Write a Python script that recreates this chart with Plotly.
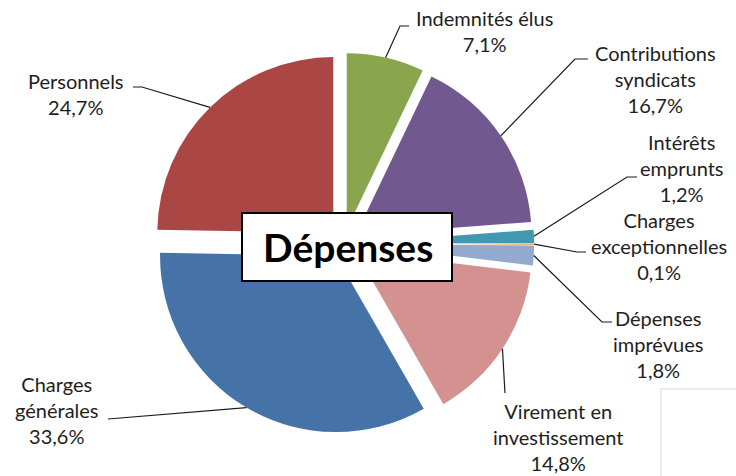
import math
import plotly.graph_objects as go

# ---- data ----
categories = ["Indemnités élus", "Contributions syndicats", "Intérêts emprunts",
              "Charges exceptionnelles", "Dépenses imprévues",
              "Virement en investissement", "Charges générales", "Personnels"]
label_lines = [["Indemnités élus"], ["Contributions", "syndicats"], ["Intérêts", "emprunts"],
               ["Charges", "exceptionnelles"], ["Dépenses", "imprévues"],
               ["Virement en", "investissement"], ["Charges", "générales"], ["Personnels"]]
values = [7.1, 16.7, 1.2, 0.1, 1.8, 14.8, 33.6, 24.7]
pct_labels = ["7,1%", "16,7%", "1,2%", "0,1%", "1,8%", "14,8%", "33,6%", "24,7%"]
colors = ["#89A54E", "#71588F", "#4198AF", "#E8913F", "#93A9CF", "#D39290", "#4572A7", "#AA4643"]
title_text = "Dépenses"

# ---- layout geometry (pixels) ----
W, H = 736, 476
PULL = 0.083
R = 176.0
CX, CY = 343.5, 243.5
half = R * (1 + PULL)
dom_x = [(CX - half) / W, (CX + half) / W]
dom_y = [1 - (CY + half) / H, 1 - (CY - half) / H]

# label block centres and leader-line end paths (layout positions)
label_pos = [(485, 31), (655, 79), (682, 168), (659, 246), (658, 344), (558, 437), (57, 410), (76, 94)]
leader_ends = [[(400, 26), (409, 26)],
               [(575, 59), (588, 59)],
               [(627, 177), (637, 177)],
               [(577, 252), (586, 252)],
               [(602, 322), (612, 322)],
               [(505, 393)],
               [(108, 419)],
               [(142, 87), (133, 87)]]

FONT = "Lato, 'Open Sans', sans-serif"
TXT = "#1e1e1e"


def px(x, y):
    return x / W, 1 - y / H


fig = go.Figure(go.Pie(
    labels=categories, values=values, sort=False, direction="clockwise", rotation=0,
    pull=[PULL] * len(values), marker=dict(colors=colors, line=dict(width=0)),
    textinfo="none", hoverinfo="label+percent", showlegend=False,
    domain=dict(x=dom_x, y=dom_y),
))

shapes = []
annotations = []
total = sum(values)
cum = 0.0
for i, v in enumerate(values):
    mid = (cum + v / 2) / total * 2 * math.pi
    cum += v
    dx, dy = math.sin(mid), -math.cos(mid)
    ax = CX + dx * (PULL * R + R)
    ay = CY + dy * (PULL * R + R)
    pts = [(ax, ay)] + leader_ends[i]
    path = "M " + " L ".join("%.4f,%.4f" % px(x, y) for x, y in pts)
    shapes.append(dict(type="path", path=path, xref="paper", yref="paper",
                       line=dict(color="#1a1a1a", width=1.2)))
    lx, ly = px(*label_pos[i])
    annotations.append(dict(
        x=lx, y=ly, xref="paper", yref="paper", xanchor="center", yanchor="middle",
        text="<br>".join(label_lines[i] + [pct_labels[i]]), showarrow=False,
        font=dict(family=FONT, size=20, color=TXT), align="center"))

# title box
x0, y0 = px(242, 213)
x1, y1 = px(452, 281)
shapes.append(dict(type="rect", xref="paper", yref="paper", x0=x0, y0=y1, x1=x1, y1=y0,
                   fillcolor="white", line=dict(color="black", width=2)))
tx, ty = px(348, 247)
annotations.append(dict(x=tx, y=ty, xref="paper", yref="paper", xanchor="center", yanchor="middle",
                        text="<b>" + title_text + "</b>", showarrow=False,
                        font=dict(family=FONT, size=39, color="black")))
# faint box at bottom right
gx0, gy0 = px(661, 389)
gx1, gy1 = px(745, 485)
shapes.append(dict(type="rect", xref="paper", yref="paper", x0=gx0, y0=gy1, x1=gx1, y1=gy0,
                   line=dict(color="#e3e3e3", width=1.5), fillcolor="rgba(0,0,0,0)"))

fig.update_layout(width=W, height=H, margin=dict(l=0, r=0, t=0, b=0),
                  paper_bgcolor="white", plot_bgcolor="white",
                  shapes=shapes, annotations=annotations)
fig.write_html("out.html", config={"displayModeBar": False},
               post_script="document.body.style.margin='0px';document.body.style.overflow='hidden';")
